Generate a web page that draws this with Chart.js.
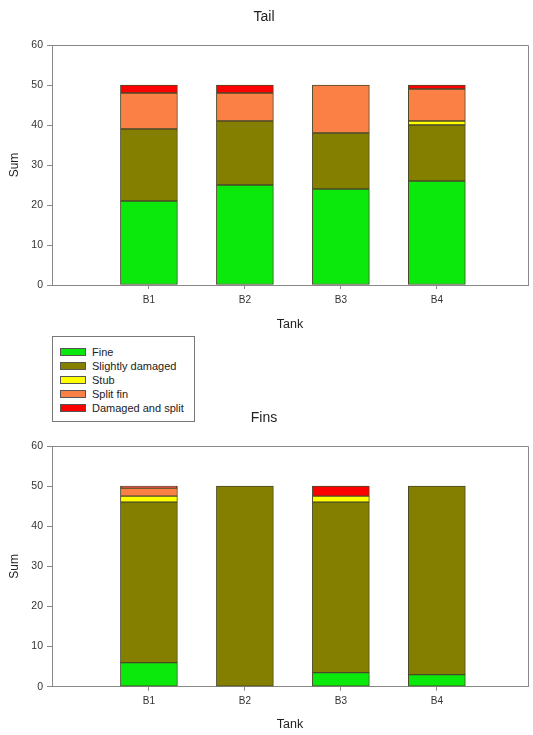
<!DOCTYPE html>
<html><head><meta charset="utf-8">
<script src="https://cdn.jsdelivr.net/npm/chart.js@4/dist/chart.umd.min.js"></script>
<style>
html,body{margin:0;padding:0;background:#fff;}
body{width:533px;height:735px;position:relative;overflow:hidden;font-family:"Liberation Sans",Arial,sans-serif;}
.wrap{position:absolute;left:0;width:533px;height:335px;}
#legend{position:absolute;left:52px;top:336px;width:143px;height:86px;border:1px solid #777;background:#fff;z-index:5;box-sizing:border-box;}
.row{position:absolute;left:0;height:14px;font-size:11px;color:#222;line-height:14px;}
.sw{position:absolute;left:7px;top:3px;width:26px;height:8px;border:1px solid #555;box-sizing:border-box;}
.lab{position:absolute;left:39px;top:0;white-space:nowrap;}
</style></head>
<body>
<div class="wrap" style="top:0"><canvas id="tail" width="533" height="335"></canvas></div>
<div class="wrap" style="top:400px"><canvas id="fins" width="533" height="335"></canvas></div>
<div id="legend"></div>
<script>
const categories = ['B1','B2','B3','B4'];
const seriesNames = ['Fine','Slightly damaged','Stub','Split fin','Damaged and split'];
const seriesColors = ['#0be80b','#857f00','#ffff00','#fa8045','#ff0000'];
const tailFine     = [21, 25, 24, 26];
const tailSlightly = [18, 16, 14, 14];
const tailStub     = [0, 0, 0, 1];
const tailSplit    = [9, 7, 12, 8];
const tailDamaged  = [2, 2, 0, 1];
const finsFine     = [6, 0, 3.5, 3];
const finsSlightly = [40, 50, 42.5, 47];
const finsStub     = [1.5, 0, 1.5, 0];
const finsSplit    = [2, 0, 0, 0];
const finsDamaged  = [0.5, 0, 2.5, 0];
const yTicks = [0, 10, 20, 30, 40, 50, 60];

Chart.defaults.font.family = '"Liberation Sans", Arial, sans-serif';
Chart.defaults.color = '#222';

const framePlugin = {
  id: 'frame',
  afterDraw(chart) {
    const a = chart.chartArea, c = chart.ctx;
    c.save();
    c.strokeStyle = '#888';
    c.lineWidth = 1;
    c.beginPath();
    c.moveTo(a.left, a.top + 0.5);
    c.lineTo(a.right + 0.5, a.top + 0.5);
    c.lineTo(a.right + 0.5, a.bottom);
    c.stroke();
    c.restore();
  }
};

function makeChart(id, title, arrays, titlePadTop, xHeight) {
  const datasets = arrays.map((arr, k) => ({
    label: seriesNames[k],
    data: arr.map((v, i) => ({x: i + 1, y: v})),
    backgroundColor: seriesColors[k],
    borderColor: '#4a4a2a',
    borderWidth: 1,
    borderSkipped: false,
    barThickness: 57
  }));
  return new Chart(document.getElementById(id), {
    type: 'bar',
    data: {datasets},
    plugins: [framePlugin],
    options: {
      responsive: false,
      animation: false,
      layout: {padding: {left: 0, right: 5, top: 0, bottom: 0}},
      plugins: {
        legend: {display: false},
        tooltip: {enabled: false},
        title: {display: true, text: title, font: {size: 14, weight: 'normal'}, color: '#222',
                padding: {top: titlePadTop - 0.3, bottom: 19.5}}
      },
      scales: {
        x: {
          type: 'linear', min: -0.01, max: 4.95, stacked: true, offset: false,
          afterBuildTicks: s => { s.ticks = categories.map((c, i) => ({value: i + 1})); },
          afterFit: s => { s.height = xHeight; },
          ticks: {callback: v => categories[v - 1] || '', font: {size: 10}, color: '#333', padding: 5, maxRotation: 0},
          grid: {offset: false, drawOnChartArea: false, drawTicks: true, tickLength: 4, color: '#888'},
          border: {display: true, color: '#888'},
          title: {display: true, text: 'Tank', font: {size: 12.5}, color: '#222', padding: {top: 0, bottom: 3}}
        },
        y: {
          min: 0, max: 60, stacked: true,
          afterBuildTicks: s => { s.ticks = yTicks.map(v => ({value: v})); },
          afterFit: s => { s.width = 52; },
          ticks: {font: {size: 10.5}, color: '#333', padding: 4},
          grid: {drawOnChartArea: false, drawTicks: true, tickLength: 5, color: '#888'},
          border: {display: true, color: '#888'},
          title: {display: true, text: 'Sum', font: {size: 12}, color: '#222', padding: {top: 7, bottom: 0}}
        }
      }
    }
  });
}

makeChart('tail', 'Tail', [tailFine, tailSlightly, tailStub, tailSplit, tailDamaged], 9, 50);
makeChart('fins', 'Fins', [finsFine, finsSlightly, finsStub, finsSplit, finsDamaged], 10, 48.3);

const legend = document.getElementById('legend');
const rowTops = [8, 22, 36, 50, 64];
seriesNames.forEach((n, k) => {
  const r = document.createElement('div');
  r.className = 'row';
  r.style.top = rowTops[k] + 'px';
  r.innerHTML = '<span class="sw" style="background:' + seriesColors[k] + '"></span><span class="lab"></span>';
  r.querySelector('.lab').textContent = n;
  legend.appendChild(r);
});
</script>
</body></html>
